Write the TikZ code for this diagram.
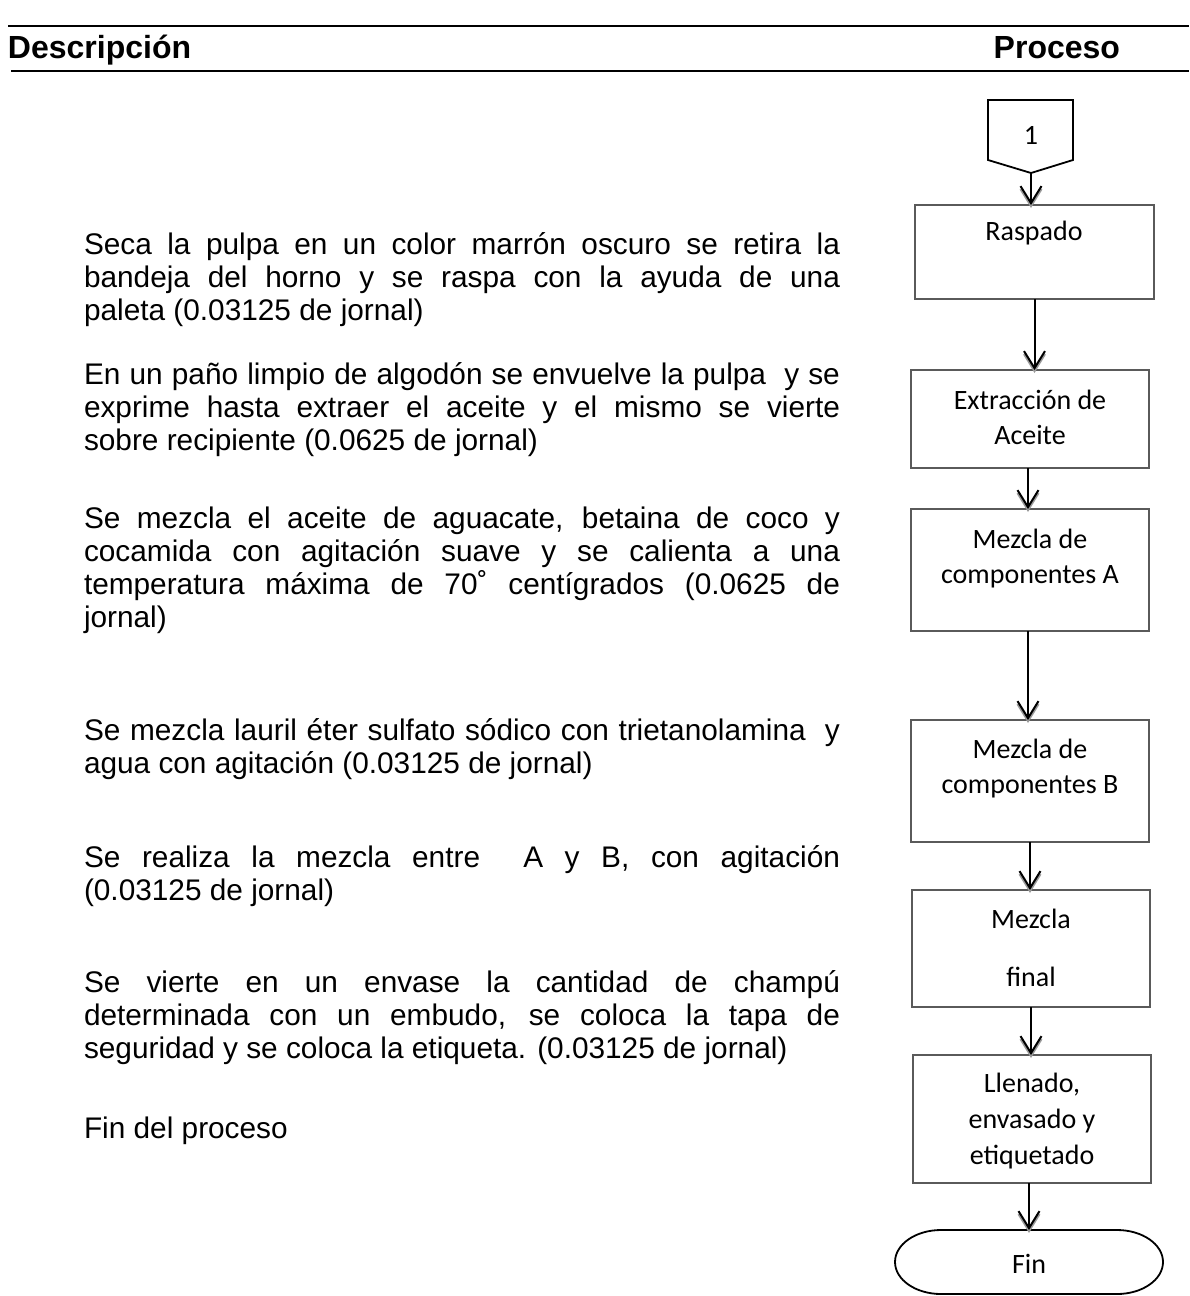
\documentclass[tikz,border=0pt]{standalone}
\usepackage{fontspec}
\setmainfont{Liberation Sans}
\newfontfamily\boxfont{Carlito}
\usetikzlibrary{arrows.meta}

\definecolor{boxgray}{HTML}{5A5A5A}
\definecolor{shadowgray}{HTML}{9A9A9A}

\tikzset{
  every node/.style={inner sep=0pt, outer sep=0pt},
  headtext/.style={anchor=base west, font=\fontsize{32}{36}\selectfont\bfseries},
  desc/.style={anchor=base west, font=\fontsize{29.8}{33.5}\selectfont},
  flowbox/.style={draw=boxgray, line width=1.6pt, anchor=north west, minimum width=238pt},
  boxtext/.style={font=\boxfont\fontsize{28}{36}\selectfont, align=center},
  rule/.style={line width=2.6pt},
  flow/.style={line width=2pt, -{Straight Barb[length=17pt,width=21pt,line width=2pt]}},
  flowshadow/.style={flow, draw=shadowgray, transform canvas={yshift=-3pt}},
}

\newcommand{\jline}[1]{\makebox[756pt][s]{#1}}

\begin{document}
\begin{tikzpicture}[x=1pt, y=-1pt]
\useasboundingbox[fill=white] (0,0) rectangle (1189,1296);

% header rules and titles
\coordinate (r1a) at (8,26);   \coordinate (r1b) at (1189,26);
\coordinate (r2a) at (11,71);  \coordinate (r2b) at (1189,71);
\draw[rule] (r1a) -- (r1b);
\draw[rule] (r2a) -- (r2b);
\node[headtext] (hdesc) at (8,58) {Descripción};
\node[headtext, anchor=base east] (hproc) at (1120,58) {Proceso};

% description column
\node[desc] (d1a) at (84,254) {\jline{Seca la pulpa en un color marrón oscuro se retira la}};
\node[desc] (d1b) at (84,287) {\jline{bandeja del horno y se raspa con la ayuda de una}};
\node[desc] (d1c) at (84,320) {paleta (0.03125 de jornal)};

\node[desc] (d2a) at (84,384) {\jline{En un paño limpio de algodón se envuelve la pulpa\ \ y se}};
\node[desc] (d2b) at (84,417) {\jline{exprime hasta extraer el aceite y el mismo se vierte}};
\node[desc] (d2c) at (84,450) {sobre recipiente (0.0625 de jornal)};

\node[desc] (d3a) at (84,528) {\jline{Se mezcla el aceite de aguacate, betaina de coco y}};
\node[desc] (d3b) at (84,561) {\jline{cocamida con agitación suave y se calienta a una}};
\node[desc] (d3c) at (84,594) {\jline{temperatura máxima de 70˚ centígrados (0.0625 de}};
\node[desc] (d3d) at (84,627) {jornal)};

\node[desc] (d4a) at (84,740) {\jline{Se mezcla lauril éter sulfato sódico con trietanolamina\ \ y}};
\node[desc] (d4b) at (84,773) {agua con agitación (0.03125 de jornal)};

\node[desc] (d5a) at (84,867) {\jline{Se realiza la mezcla entre\ \ A y B, con agitación}};
\node[desc] (d5b) at (84,900) {(0.03125 de jornal)};

\node[desc] (d6a) at (84,992) {\jline{Se vierte en un envase la cantidad de champú}};
\node[desc] (d6b) at (84,1025) {\jline{determinada con un embudo, se coloca la tapa de}};
\node[desc] (d6c) at (84,1058) {seguridad y se coloca la etiqueta. (0.03125 de jornal)};

\node[desc] (d7a) at (84,1138) {Fin del proceso};

% off-page connector
\draw[line width=1.8pt, line join=miter] (988,100) -- (1073,100) -- (1073,160) -- (1031,173) -- (988,160) -- cycle;
\coordinate (c1tip) at (1031,173);
\node[boxtext] (c1) at (1031,135) {1};

% process boxes
\node[flowbox, minimum width=239pt, minimum height=94pt]  (raspado) at (915,205) {};
\node[flowbox, minimum height=98pt]  (extr) at (911,370) {};
\node[flowbox, minimum height=122pt] (mezA) at (911,509) {};
\node[flowbox, minimum height=122pt] (mezB) at (911,720) {};
\node[flowbox, minimum height=117pt] (mezF) at (912,890) {};
\node[flowbox, minimum height=128pt] (llen) at (913,1055) {};

% terminator with elliptical ends
\node[minimum width=268pt, minimum height=64pt] (fin) at (1029,1262) {};
\draw[line width=1.8pt] (941,1230) -- (1117,1230)
  arc[start angle=-90, end angle=90, x radius=46, y radius=32]
  -- (941,1294)
  arc[start angle=90, end angle=270, x radius=46, y radius=32] -- cycle;

% box labels
\node[boxtext] (traspado) at (1034,233) {Raspado};
\node[boxtext] (textr1) at (1030,400) {Extracción de};
\node[boxtext] (textr2) at (1030,435) {Aceite};
\node[boxtext] (tmezA1) at (1030,539) {Mezcla de};
\node[boxtext] (tmezA2) at (1030,577) {componentes A};
\node[boxtext] (tmezB1) at (1030,749) {Mezcla de};
\node[boxtext] (tmezB2) at (1030,787) {componentes B};
\node[boxtext] (tmezF1) at (1031,919) {Mezcla};
\node[boxtext] (tmezF2) at (1031,977) {final};
\node[boxtext] (tllen1) at (1032,1085) {Llenado,};
\node[boxtext] (tllen2) at (1032,1121) {envasado y};
\node[boxtext] (tllen3) at (1032,1157) {etiquetado};
\node[boxtext] (tfin) at (1029,1264) {Fin};

% connectors with a soft grey shadow under each arrow head
\foreach \s in {flowshadow, flow}{
  \draw[\s] (c1tip) -- (c1tip |- raspado.north);
  \draw[\s] (raspado.south) -- (raspado.south |- extr.north);
  \draw[\s] ([xshift=-2pt]extr.south) -- ([xshift=-2pt]extr.south |- mezA.north);
  \draw[\s] ([xshift=-2pt]mezA.south) -- ([xshift=-2pt]mezA.south |- mezB.north);
  \draw[\s] (mezB.south) -- (mezB.south |- mezF.north);
  \draw[\s] (mezF.south) -- (mezF.south |- llen.north);
  \draw[\s] ([xshift=-3pt]llen.south) -- ([xshift=-3pt]llen.south |- fin.north);
}
\end{tikzpicture}
\end{document}
